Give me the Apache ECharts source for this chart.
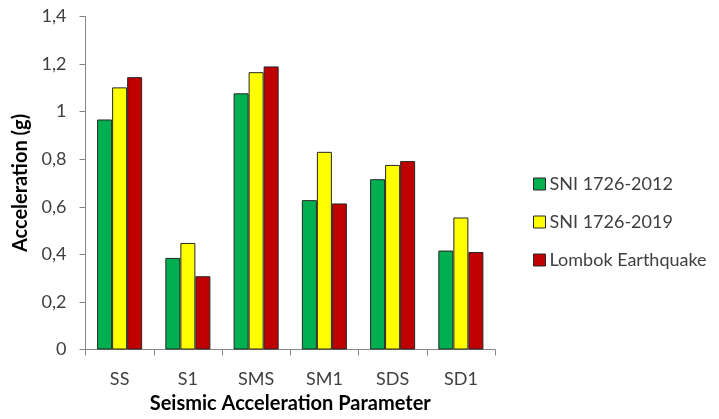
<!DOCTYPE html>
<html>
<head>
<meta charset="utf-8">
<script src="https://cdn.jsdelivr.net/npm/echarts@6/dist/echarts.min.js"></script>
<style>
  html, body { margin: 0; padding: 0; background: #fff; }
  #chart { width: 719px; height: 419px; }
</style>
</head>
<body>
<div id="chart"></div>
<script>
// Seismic acceleration parameters (g) per design code / event
const categories = ['SS', 'S1', 'SMS', 'SM1', 'SDS', 'SD1'];
const sni2012 = [0.967, 0.385, 1.077, 0.628, 0.716, 0.416];
const sni2019 = [1.102, 0.448, 1.166, 0.831, 0.776, 0.555];
const lombok = [1.145, 0.308, 1.190, 0.614, 0.792, 0.410];
const seriesNames = ['SNI 1726-2012', 'SNI 1726-2019', 'Lombok Earthquake'];
const seriesColors = ['#00B050', '#FFFF00', '#C00000'];

const FONT = 'Lato, "Open Sans", sans-serif';
const chart = echarts.init(document.getElementById('chart'));

const barSeries = [sni2012, sni2019, lombok].map((data, i) => ({
  name: seriesNames[i],
  type: 'bar',
  data: data,
  barGap: '0%',
  barCategoryGap: '34%',
  itemStyle: { color: seriesColors[i], borderColor: '#262626', borderWidth: 1 }
}));

chart.setOption({
  animation: false,
  textStyle: { fontFamily: FONT },
  grid: { left: 85.5, right: 224, top: 16.5, bottom: 69.5, containLabel: false },
  legend: {
    orient: 'vertical',
    left: 528,
    top: 170,
    itemWidth: 12,
    itemHeight: 12,
    itemGap: 20,
    icon: 'rect',
    textStyle: { fontFamily: FONT, fontSize: 18, color: '#404040', padding: [0, 0, 0, -1] },
    itemStyle: { borderColor: '#262626', borderWidth: 1 },
    data: seriesNames
  },
  xAxis: {
    type: 'category',
    data: categories,
    name: 'Seismic Acceleration Parameter',
    nameLocation: 'middle',
    nameGap: 39,
    nameTextStyle: { fontFamily: FONT, fontSize: 20, fontWeight: 'bold', color: '#000' },
    axisLine: { lineStyle: { color: '#868686', width: 1 } },
    axisTick: { show: true, length: 6, lineStyle: { color: '#868686' } },
    axisLabel: { fontFamily: FONT, fontSize: 18, color: '#404040', margin: 21 }
  },
  yAxis: {
    type: 'value',
    min: 0,
    max: 1.4,
    interval: 0.2,
    name: 'Acceleration (g)',
    nameLocation: 'middle',
    nameGap: 52,
    nameRotate: 90,
    nameTextStyle: { fontFamily: FONT, fontSize: 20, fontWeight: 'bold', color: '#000' },
    splitLine: { show: false },
    axisLine: { show: true, lineStyle: { color: '#868686', width: 1 } },
    axisTick: { show: true, length: 6, lineStyle: { color: '#868686' } },
    axisLabel: {
      fontFamily: FONT, fontSize: 18, color: '#404040', margin: 19,
      formatter: v => (Math.round(v * 10) / 10).toString().replace('.', ',')
    }
  },
  series: barSeries
});
</script>
</body>
</html>
